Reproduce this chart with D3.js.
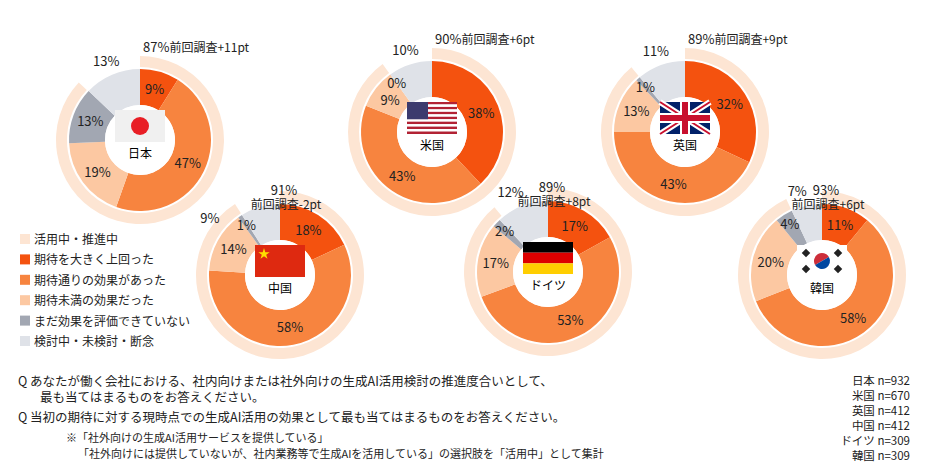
<!DOCTYPE html>
<html><head><meta charset="utf-8">
<script src="https://cdn.jsdelivr.net/npm/d3@7"></script>
<style>body{margin:0;background:#fff}text{font-family:"Noto Sans CJK JP","Noto Sans",sans-serif}</style>
</head><body><svg id="c" width="933" height="471"></svg>
<script>
var countries = ["日本","米国","英国","中国","ドイツ","韓国"];
var flags = ["jp","us","uk","cn","de","kr"];
var active = [87,90,89,91,89,93];
var diffs = ["+11pt","+6pt","+9pt","-2pt","+8pt","+6pt"];
var categories = ["期待を大きく上回った","期待通りの効果があった","期待未満の効果だった","まだ効果を評価できていない","検討中・未検討・断念"];
var values = [
  [9,47,19,13,13],
  [38,43,9,0,10],
  [32,43,13,1,11],
  [18,58,14,1,9],
  [17,53,17,2,12],
  [11,58,20,4,7]
];
var nLabels = ["日本 n=932","米国 n=670","英国 n=412","中国 n=412","ドイツ n=309","韓国 n=309"];
var colors = ["#f4520f","#f7843f","#fcc8a2","#a2a7b2","#dfe2e8"];
var ringColor = "#fde5d3";

var svg = d3.select("#c");
var centers = [[140,140],[432,132],[685,132],[280,275],[548,272],[822,275]];
var twoLine = [false,false,false,true,true,true];
var outerShift = [0,0,0,-32,0,0]; // degrees, to move the outside label clear of the header
var pie = d3.pie().sort(null).value(function(d){return d;});
var inner = d3.arc().innerRadius(35).outerRadius(71);
var ring = d3.arc().innerRadius(73).outerRadius(84);

function flag(g, k){
  var w=50,h=32,x=-25,y=-30;
  g.append("rect").attr("x",x).attr("y",y).attr("width",w).attr("height",h).attr("fill","#f0f0f0");
  if(k=="jp"){g.append("circle").attr("cx",0).attr("cy",y+h/2).attr("r",9).attr("fill","#e81e25");}
  if(k=="cn"){g.append("rect").attr("x",x).attr("y",y).attr("width",w).attr("height",h).attr("fill","#de2910");
    g.append("path").attr("d",d3.symbol(d3.symbolStar,40)()).attr("transform","translate("+(x+9)+","+(y+9)+")").attr("fill","#ffde00");}
  if(k=="de"){["#000","#dd0000","#ffce00"].forEach(function(c,i){g.append("rect").attr("x",x).attr("y",y+i*h/3).attr("width",w).attr("height",h/3).attr("fill",c);});}
  if(k=="us"){d3.range(13).forEach(function(i){g.append("rect").attr("x",x).attr("y",y+i*h/13).attr("width",w).attr("height",h/13).attr("fill",i%2?"#fff":"#b22234");});
    g.append("rect").attr("x",x).attr("y",y).attr("width",w*0.42).attr("height",h*7/13).attr("fill","#3c3b6e");}
  if(k=="uk"){g.append("rect").attr("x",x).attr("y",y).attr("width",w).attr("height",h).attr("fill","#012169");
    g.append("path").attr("d","M"+x+","+y+"L"+(x+w)+","+(y+h)+"M"+(x+w)+","+y+"L"+x+","+(y+h)).attr("stroke","#fff").attr("stroke-width",6);
    g.append("path").attr("d","M"+x+","+y+"L"+(x+w)+","+(y+h)+"M"+(x+w)+","+y+"L"+x+","+(y+h)).attr("stroke","#c8102e").attr("stroke-width",2);
    g.append("path").attr("d","M0,"+y+"V"+(y+h)+"M"+x+","+(y+h/2)+"H"+(x+w)).attr("stroke","#fff").attr("stroke-width",10);
    g.append("path").attr("d","M0,"+y+"V"+(y+h)+"M"+x+","+(y+h/2)+"H"+(x+w)).attr("stroke","#c8102e").attr("stroke-width",6);}
  if(k=="kr"){g.append("rect").attr("x",x).attr("y",y).attr("width",w).attr("height",h).attr("fill","#fff");
    g.append("path").attr("d",d3.arc().innerRadius(0).outerRadius(8).startAngle(-Math.PI/2).endAngle(Math.PI/2)()).attr("transform","translate(0,"+(y+h/2)+") rotate(-30)").attr("fill","#cd2e3a");
    g.append("path").attr("d",d3.arc().innerRadius(0).outerRadius(8).startAngle(Math.PI/2).endAngle(Math.PI*1.5)()).attr("transform","translate(0,"+(y+h/2)+") rotate(-30)").attr("fill","#0047a0");
    [[-16,-8],[16,-8],[-16,8],[16,8]].forEach(function(p){g.append("rect").attr("x",p[0]-3).attr("y",y+h/2+p[1]-3).attr("width",6).attr("height",6).attr("fill","#222").attr("transform","rotate("+(p[0]*p[1]>0?45:-45)+","+p[0]+","+(y+h/2+p[1])+")");});}
}

countries.forEach(function(name,i){
  var g = svg.append("g").attr("transform","translate("+centers[i][0]+","+centers[i][1]+")");
  g.append("path").attr("d",ring({startAngle:0,endAngle:2*Math.PI*active[i]/100})).attr("fill",ringColor);
  var arcs = pie(values[i]);
  g.selectAll(".s").data(arcs).enter().append("path").attr("d",inner).attr("fill",function(d,j){return colors[j];});
  g.append("circle").attr("r",35).attr("fill","#fff");
  flag(g, flags[i]);
  g.append("text").attr("y",18).attr("text-anchor","middle").attr("font-size",12).text(name);
  arcs.forEach(function(a,j){
    var r = j==4 ? 86 : (a.value<5 ? 60 : 53);
    var m = (a.startAngle+a.endAngle)/2 + (j==4 ? outerShift[i]*Math.PI/180 : 0);
    g.append("text").attr("x",r*Math.sin(m)-(j==4&&twoLine[i]?6:0)).attr("y",-r*Math.cos(m)+5).attr("text-anchor","middle").attr("font-size",13).attr("fill","#222").text(a.value+"%");
  });
  if(!twoLine[i]){
    g.append("text").attr("x",3).attr("y",-88).attr("font-size",13).attr("fill","#222")
      .text(active[i]+"%").append("tspan").attr("font-size",12).text("前回調査"+diffs[i]);
  } else {
    g.append("text").attr("x",4).attr("y",-80).attr("text-anchor","middle").attr("font-size",13).attr("fill","#222").text(active[i]+"%");
    g.append("text").attr("x",6).attr("y",-66).attr("text-anchor","middle").attr("font-size",12).attr("fill","#222").text("前回調査"+diffs[i]);
  }
});

// legend
var legItems = ["活用中・推進中"].concat(categories);
var legColors = [ringColor].concat(colors);
legItems.forEach(function(t,i){
  var y = 240 + i*20.4;
  svg.append("rect").attr("x",20).attr("y",y-6).attr("width",10).attr("height",10).attr("fill",legColors[i]);
  svg.append("text").attr("x",34).attr("y",y+4).attr("font-size",12).attr("fill","#222").text(t);
});

// notes
var notes = [
  [18,386,"Q あなたが働く会社における、社内向けまたは社外向けの生成AI活用検討の推進度合いとして、"],
  [40,402,"最も当てはまるものをお答えください。"],
  [18,422,"Q 当初の期待に対する現時点での生成AI活用の効果として最も当てはまるものをお答えください。"],
  [66,442,"※「社外向けの生成AI活用サービスを提供している」"],
  [78,458,"「社外向けには提供していないが、社内業務等で生成AIを活用している」の選択肢を「活用中」として集計"]
];
notes.forEach(function(n,i){
  svg.append("text").attr("x",n[0]).attr("y",n[1]).attr("font-size",i<3?12.5:11).attr("fill","#222").text(n[2]);
});
nLabels.forEach(function(t,i){
  svg.append("text").attr("x",910).attr("y",385+i*15).attr("text-anchor","end").attr("font-size",11.5).attr("fill","#222").text(t);
});
</script></body></html>
